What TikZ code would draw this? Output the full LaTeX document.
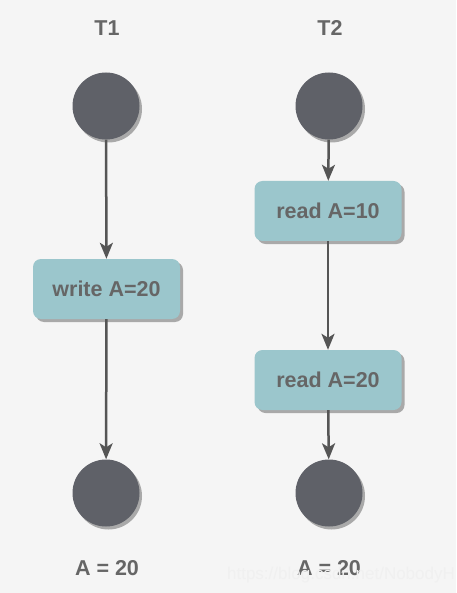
\documentclass[tikz,border=0pt]{standalone}
\usepackage{fontspec}
\setmainfont{Liberation Sans}
\usetikzlibrary{arrows.meta,shadows}
\definecolor{bg}{HTML}{F5F5F5}
\definecolor{dot}{HTML}{5F6168}
\definecolor{boxfill}{HTML}{9BC6CC}
\definecolor{txt}{HTML}{666666}
\definecolor{arr}{HTML}{555555}
\definecolor{shad}{HTML}{A9A9A9}
\tikzset{
  dotnode/.style={circle, fill=dot, minimum size=67pt, inner sep=0pt,
    drop shadow={shadow xshift=2.5pt, shadow yshift=-3pt, fill=shad, opacity=1}},
  stepbox/.style={rectangle, rounded corners=8pt, fill=boxfill, minimum width=147pt,
    minimum height=60pt, inner sep=0pt, font=\fontsize{21.5}{24}\selectfont\bfseries, text=txt,
    drop shadow={shadow xshift=3pt, shadow yshift=-3pt, fill=shad, opacity=1}},
  lbl/.style={font=\fontsize{21.5}{24}\selectfont\bfseries, text=txt, inner sep=0pt},
  conn/.style={draw=arr, line width=2.5pt, -{Stealth[length=16pt,width=13pt,inset=4pt]}},
}
\begin{document}
\begin{tikzpicture}[x=1pt,y=-1pt]
\fill[bg] (0,0) rectangle (456,593);
\useasboundingbox (0,0) rectangle (456,593);
\node[lbl] (t1) at (107,28) {T1};
\node[lbl] (t2) at (330,28) {T2};
\node[dotnode] (s1) at (106,106) {};
\node[dotnode] (s2) at (329,106) {};
\node[stepbox] (w) at (106.5,289) {write A=20};
\node[stepbox] (r1) at (328,211) {read A=10};
\node[stepbox] (r2) at (328,380) {read A=20};
\node[dotnode] (e1) at (106,493) {};
\node[dotnode] (e2) at (329,493) {};
\node[lbl] (a1) at (107,568) {A = 20};
\node[lbl] (a2) at (329,568) {A = 20};
\node[font=\fontsize{17}{20}\selectfont, text=white!88!gray, inner sep=0pt] (wm) at (341,575) {https://blog.csdn.net/NobodyH};
\draw[conn] (s1) -- (w);
\draw[conn] (w) -- (e1);
\draw[conn] (s2) -- (r1);
\draw[conn] (r1) -- (r2);
\draw[conn] (r2) -- (e2);
\end{tikzpicture}
\end{document}
